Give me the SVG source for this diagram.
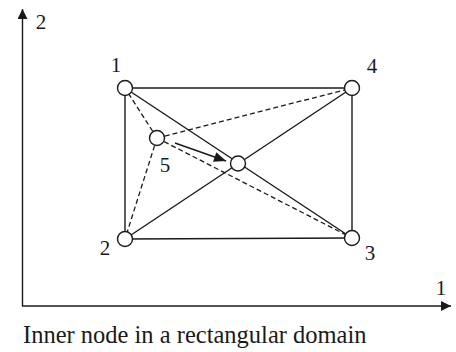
<svg xmlns="http://www.w3.org/2000/svg" width="456" height="352" viewBox="0 0 456 352">
<style>
.l{stroke:#1a1a1a;stroke-width:1.4;fill:none}
.d{stroke:#1a1a1a;stroke-width:1.3;fill:none;stroke-dasharray:5 3}
.n{fill:#fff;stroke:#1a1a1a;stroke-width:1.4}
.t{font-family:'Liberation Serif','Times New Roman',serif;font-size:21px;fill:#1a1a1a;text-anchor:middle}
.c{font-family:'Liberation Serif','Times New Roman',serif;font-size:24.5px;fill:#1a1a1a}
</style>
<defs>
<marker id="ah" viewBox="0 0 10 10" refX="10" refY="5" markerWidth="10" markerHeight="10" markerUnits="userSpaceOnUse" orient="auto">
<path d="M0,0 L10,5 L0,10 z" fill="#1a1a1a"/>
</marker>
<marker id="ah2" viewBox="0 0 12 10" refX="12" refY="5" markerWidth="13" markerHeight="10" markerUnits="userSpaceOnUse" orient="auto">
<path d="M0,0 L12,5 L0,10 z" fill="#1a1a1a"/>
</marker>
</defs>
<g id="axes">
<line class="l" x1="22.5" y1="306" x2="22.5" y2="9" marker-end="url(#ah)"/>
<line class="l" x1="22" y1="306" x2="451" y2="306" marker-end="url(#ah)"/>
<text class="t" x="41" y="29">2</text>
<text class="t" x="441" y="295">1</text>
</g>
<g id="connectors">
<line class="l" x1="125" y1="88" x2="352" y2="88"/>
<line class="l" x1="125" y1="88" x2="125" y2="239"/>
<line class="l" x1="352" y1="88" x2="352" y2="238"/>
<line class="l" x1="125" y1="239" x2="352" y2="238"/>
<line class="l" x1="125" y1="88" x2="352" y2="238"/>
<line class="l" x1="125" y1="239" x2="352" y2="88"/>
<line class="d" x1="157" y1="138" x2="125" y2="88"/>
<line class="d" x1="157" y1="138" x2="125" y2="239"/>
<line class="d" x1="157" y1="138" x2="352" y2="88"/>
<line class="d" x1="157" y1="138" x2="352" y2="238"/>
<line class="l" x1="175" y1="143" x2="226" y2="161" marker-end="url(#ah2)"/>
</g>
<g id="node1"><circle class="n" cx="125" cy="88" r="7.5"/><text class="t" x="116" y="72">1</text></g>
<g id="node2"><circle class="n" cx="125" cy="239" r="7.5"/><text class="t" x="105" y="255">2</text></g>
<g id="node3"><circle class="n" cx="352" cy="238" r="7.5"/><text class="t" x="370" y="260">3</text></g>
<g id="node4"><circle class="n" cx="352" cy="88" r="7.5"/><text class="t" x="372" y="73">4</text></g>
<g id="node5"><circle class="n" cx="157" cy="138" r="7.5"/><text class="t" x="165" y="172">5</text></g>
<g id="node6"><circle class="n" cx="238" cy="163.5" r="7.5"/></g>
<text class="c" x="23" y="343">Inner node in a rectangular domain</text>
</svg>
